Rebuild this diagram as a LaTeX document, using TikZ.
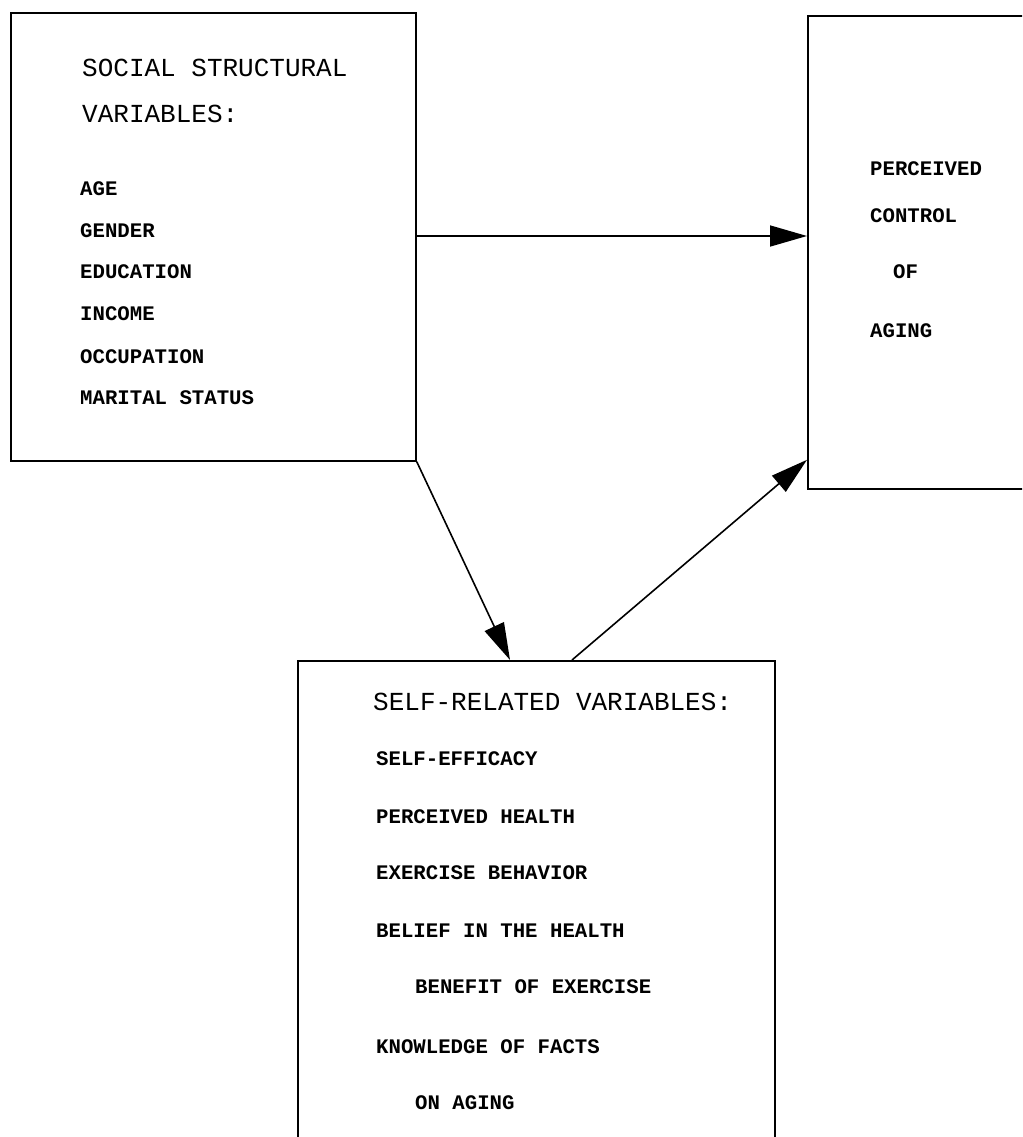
\documentclass[tikz,border=0pt]{standalone}
\usepackage{fontspec}
\newfontfamily\twfont{Liberation Mono}
\usetikzlibrary{arrows.meta}
\begin{document}
\begin{tikzpicture}[x=1pt,y=-1pt,
  box/.style={draw=black,line width=1.8pt,inner sep=0pt,anchor=north west},
  ttl/.style={anchor=base west,inner sep=0pt,font=\twfont\fontsize{26}{30}\selectfont},
  itm/.style={anchor=base west,inner sep=0pt,font=\twfont\bfseries\fontsize{20.7}{24}\selectfont},
  conn/.style={line width=1.6pt,-{Triangle[length=37pt,width=21pt]}}]
\useasboundingbox (0,0) rectangle (1022,1137);
\clip (0,0) rectangle (1022,1137);
\fill[white] (0,0) rectangle (1022,1137);
% boxes
\node[box,minimum width=405pt,minimum height=448pt] (social) at (10,12) {};
\node[box,minimum width=240pt,minimum height=473pt] (control) at (807,15) {};
\node[box,minimum width=477pt,minimum height=500pt] (self) at (297,660) {};
% social structural text
\node[ttl] (s1) at (82,77) {SOCIAL STRUCTURAL};
\node[ttl] (s2) at (82,122) {VARIABLES:};
\node[itm] (s3) at (80,195) {AGE};
\node[itm] (s4) at (80,237) {GENDER};
\node[itm] (s5) at (80,278) {EDUCATION};
\node[itm] (s6) at (80,320) {INCOME};
\node[itm] (s7) at (80,363) {OCCUPATION};
\node[itm] (s8) at (80,404) {MARITAL STATUS};
% perceived control text
\node[itm] (c1) at (870,175) {PERCEIVED};
\node[itm] (c2) at (870,222) {CONTROL};
\node[itm] (c3) at (893,278) {OF};
\node[itm] (c4) at (870,337) {AGING};
% self-related text
\node[ttl] (r0) at (373,710) {SELF-RELATED VARIABLES:};
\node[itm] (r1) at (376,765) {SELF-EFFICACY};
\node[itm] (r2) at (376,823) {PERCEIVED HEALTH};
\node[itm] (r3) at (376,879) {EXERCISE BEHAVIOR};
\node[itm] (r4) at (376,937) {BELIEF IN THE HEALTH};
\node[itm] (r5) at (415,993) {BENEFIT OF EXERCISE};
\node[itm] (r6) at (376,1053) {KNOWLEDGE OF FACTS};
\node[itm] (r7) at (415,1109) {ON AGING};
% connectors
\draw[conn] ([yshift=-224pt]social.north east) -- ([yshift=-221pt]control.north west);
\draw[conn] (social.south east) -- ([xshift=213pt]self.north west);
\draw[conn] ([xshift=275pt]self.north west) -- ([yshift=30pt]control.south west);
\end{tikzpicture}
\end{document}
